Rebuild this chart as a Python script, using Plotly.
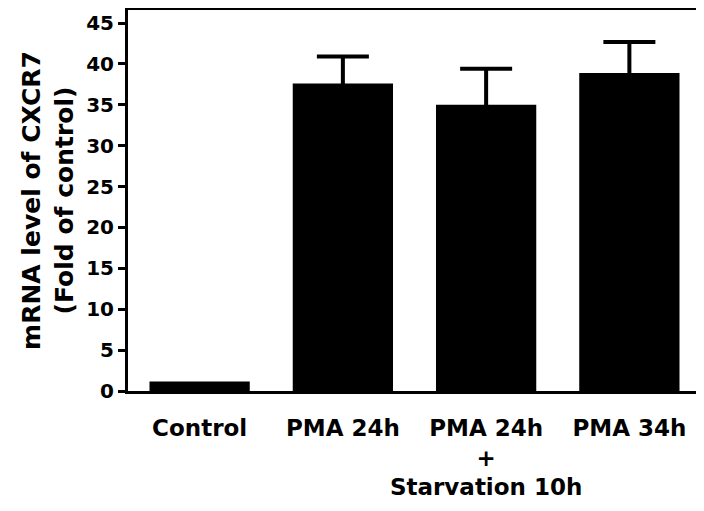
import plotly.graph_objects as go

categories = ["Control", "PMA 24h", "PMA 24h<br>+<br>Starvation 10h", "PMA 34h"]
means = [1.15, 37.6, 35.0, 38.9]
errors = [0.0, 3.3, 4.4, 3.8]
y_ticks = [0, 5, 10, 15, 20, 25, 30, 35, 40, 45]

FONT = "DejaVu Sans"

fig = go.Figure()
# Control has no visible error bar; the other groups carry SEM bars
fig.add_trace(go.Bar(
    x=categories[:1],
    y=means[:1],
    marker=dict(color="black", line=dict(width=0)),
))
fig.add_trace(go.Bar(
    x=categories[1:],
    y=means[1:],
    marker=dict(color="black", line=dict(width=0)),
    error_y=dict(type="data", array=errors[1:], symmetric=True,
                 color="black", thickness=4, width=26, visible=True),
))

# page body has an 8px margin, so the figure is sized to fit the window
fig.update_layout(
    width=696, height=503,
    margin=dict(l=120, r=3, t=2, b=120),
    paper_bgcolor="white", plot_bgcolor="white",
    barmode="overlay",
    bargap=0.30,
    showlegend=False,
    font=dict(family=FONT, color="black"),
)
fig.update_xaxes(
    automargin=False,
    categoryorder="array", categoryarray=categories,
    tickangle=0,
    showline=True, linecolor="black", linewidth=3, mirror=True,
    ticks="", showgrid=False, zeroline=False,
    tickfont=dict(family=FONT, size=23, color="black", weight="bold"),
    ticklabelstandoff=14,
)
fig.update_yaxes(
    automargin=False,
    range=[0, 46.6],
    tickvals=y_ticks, ticktext=[str(v) for v in y_ticks],
    showline=True, linecolor="black", linewidth=3, mirror=True,
    ticks="outside", ticklen=7, tickwidth=3, tickcolor="black",
    showgrid=False, zeroline=False,
    tickfont=dict(family=FONT, size=20, color="black", weight="bold"),
    title=dict(text="mRNA level of CXCR7<br>(Fold of control)",
               font=dict(family=FONT, size=25, color="black", weight="bold"),
               standoff=6),
)

fig.write_html("out.html")
